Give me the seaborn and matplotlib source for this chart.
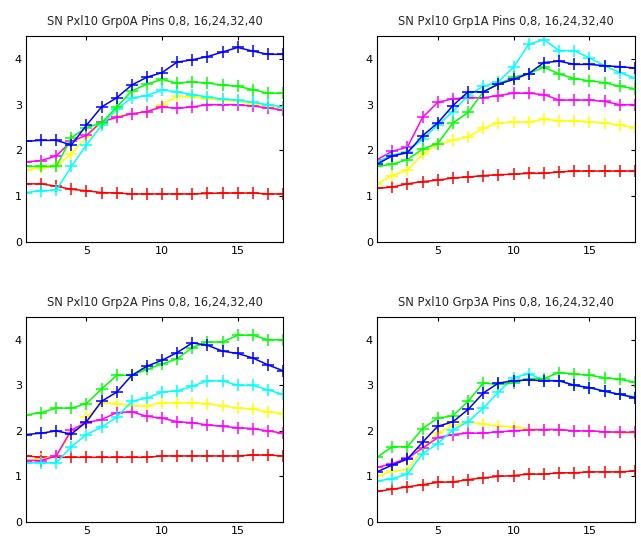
import numpy as np
import pandas as pd
import matplotlib
matplotlib.use("Agg")
import matplotlib.pyplot as plt
import seaborn as sns

# Frame index (x axis)
frames = list(range(1, 19))

groups = ["Grp0A", "Grp1A", "Grp2A", "Grp3A"]
pins = [0, 8, 16, 24, 32, 40]
pin_colors = ["red", "yellow", "magenta", "cyan", "lime", "blue"]

# Grp0A series, one per pin
g0_red = [1.27, 1.27, 1.22, 1.15, 1.12, 1.08, 1.07, 1.05, 1.05, 1.05, 1.05, 1.05, 1.06, 1.07, 1.07, 1.07, 1.05, 1.05]
g0_yellow = [1.58, 1.62, 1.65, 1.93, 2.30, 2.60, 2.75, 2.80, 2.85, 3.00, 3.18, 3.17, 3.13, 3.10, 3.07, 3.02, 2.97, 2.90]
g0_magenta = [1.75, 1.78, 1.88, 2.20, 2.33, 2.63, 2.72, 2.80, 2.85, 2.95, 2.92, 2.95, 3.00, 3.00, 3.00, 2.97, 2.93, 2.88]
g0_cyan = [1.08, 1.12, 1.13, 1.65, 2.12, 2.55, 2.90, 3.15, 3.20, 3.32, 3.28, 3.22, 3.17, 3.12, 3.10, 3.05, 3.00, 2.95]
g0_green = [1.65, 1.65, 1.65, 2.28, 2.50, 2.60, 2.95, 3.30, 3.45, 3.55, 3.47, 3.50, 3.47, 3.43, 3.40, 3.33, 3.25, 3.25]
g0_blue = [2.20, 2.22, 2.22, 2.12, 2.55, 2.95, 3.15, 3.43, 3.60, 3.70, 3.93, 3.98, 4.05, 4.15, 4.25, 4.17, 4.10, 4.10]

# Grp1A
g1_red = [1.17, 1.20, 1.27, 1.32, 1.35, 1.40, 1.42, 1.45, 1.47, 1.48, 1.50, 1.50, 1.53, 1.55, 1.55, 1.55, 1.55, 1.55]
g1_yellow = [1.27, 1.45, 1.57, 1.92, 2.13, 2.22, 2.30, 2.48, 2.60, 2.62, 2.62, 2.68, 2.65, 2.65, 2.63, 2.60, 2.55, 2.50]
g1_magenta = [1.80, 1.98, 2.07, 2.72, 3.05, 3.13, 3.15, 3.15, 3.20, 3.25, 3.25, 3.22, 3.10, 3.10, 3.10, 3.07, 3.00, 3.00]
g1_cyan = [1.75, 1.90, 1.97, 2.25, 2.55, 2.85, 3.20, 3.40, 3.50, 3.82, 4.32, 4.42, 4.18, 4.18, 4.02, 3.85, 3.70, 3.58]
g1_green = [1.65, 1.70, 1.80, 2.03, 2.15, 2.60, 2.83, 3.28, 3.45, 3.60, 3.68, 3.82, 3.67, 3.57, 3.52, 3.48, 3.40, 3.35]
g1_blue = [1.70, 1.88, 1.95, 2.32, 2.60, 2.98, 3.28, 3.28, 3.45, 3.55, 3.68, 3.92, 3.95, 3.88, 3.88, 3.85, 3.83, 3.80]

# Grp2A
g2_red = [1.45, 1.42, 1.42, 1.42, 1.42, 1.42, 1.42, 1.42, 1.42, 1.45, 1.45, 1.45, 1.45, 1.45, 1.45, 1.47, 1.47, 1.45]
g2_yellow = [1.35, 1.38, 1.45, 1.95, 2.30, 2.62, 2.60, 2.55, 2.55, 2.62, 2.62, 2.62, 2.60, 2.55, 2.50, 2.48, 2.42, 2.38]
g2_magenta = [1.35, 1.35, 1.45, 2.02, 2.18, 2.25, 2.40, 2.42, 2.32, 2.28, 2.20, 2.18, 2.13, 2.10, 2.07, 2.05, 2.00, 1.95]
g2_cyan = [1.30, 1.30, 1.30, 1.65, 1.92, 2.08, 2.30, 2.65, 2.72, 2.85, 2.88, 2.98, 3.10, 3.10, 3.00, 3.00, 2.90, 2.80]
g2_green = [2.35, 2.40, 2.50, 2.50, 2.60, 2.92, 3.22, 3.22, 3.35, 3.47, 3.58, 3.83, 3.95, 3.95, 4.10, 4.10, 4.00, 4.00]
g2_blue = [1.92, 1.95, 2.00, 1.93, 2.20, 2.65, 2.85, 3.22, 3.42, 3.55, 3.72, 3.93, 3.88, 3.75, 3.70, 3.60, 3.45, 3.32]

# Grp3A
g3_red = [0.67, 0.72, 0.77, 0.82, 0.87, 0.88, 0.93, 0.97, 1.00, 1.02, 1.05, 1.05, 1.08, 1.08, 1.10, 1.10, 1.10, 1.12]
g3_yellow = [1.00, 1.12, 1.15, 1.60, 1.95, 2.12, 2.20, 2.15, 2.10, 2.08, 2.05, 2.03, 2.03, 2.00, 2.00, 1.98, 1.95, 1.95]
g3_magenta = [1.20, 1.28, 1.40, 1.62, 1.85, 1.92, 1.95, 1.95, 1.98, 2.00, 2.02, 2.03, 2.03, 2.00, 2.00, 1.98, 1.97, 1.97]
g3_cyan = [0.90, 0.95, 1.05, 1.50, 1.72, 2.02, 2.20, 2.50, 2.85, 3.17, 3.25, 3.12, 3.10, 3.00, 2.95, 2.87, 2.80, 2.75]
g3_green = [1.42, 1.65, 1.65, 2.05, 2.28, 2.33, 2.65, 3.05, 3.02, 3.05, 3.15, 3.15, 3.28, 3.25, 3.22, 3.17, 3.13, 3.07]
g3_blue = [1.10, 1.25, 1.38, 1.75, 2.10, 2.20, 2.47, 2.83, 3.05, 3.10, 3.12, 3.10, 3.10, 3.00, 2.95, 2.87, 2.80, 2.73]

series = {
    "Grp0A": [g0_red, g0_yellow, g0_magenta, g0_cyan, g0_green, g0_blue],
    "Grp1A": [g1_red, g1_yellow, g1_magenta, g1_cyan, g1_green, g1_blue],
    "Grp2A": [g2_red, g2_yellow, g2_magenta, g2_cyan, g2_green, g2_blue],
    "Grp3A": [g3_red, g3_yellow, g3_magenta, g3_cyan, g3_green, g3_blue],
}

rows = []
for grp in groups:
    for pin, vals in zip(pins, series[grp]):
        for f, v in zip(frames, vals):
            rows.append({"group": grp, "pin": pin, "frame": f, "value": v})
df = pd.DataFrame(rows)

sns.set_style("white")
plt.rcParams["font.family"] = ["DejaVu Sans"]

fig = plt.figure(figsize=(6.41, 5.38), dpi=100)
W, H = 641, 538
boxes = [(26, 36, 283, 242), (377, 36, 635, 242),
         (26, 317, 283, 522), (377, 317, 635, 522)]

for grp, (x0, y0, x1, y1) in zip(groups, boxes):
    ax = fig.add_axes([x0 / W, 1 - y1 / H, (x1 - x0) / W, (y1 - y0) / H])
    sub = df[df["group"] == grp]
    for pin, col in zip(pins, pin_colors):
        sns.lineplot(data=sub[sub["pin"] == pin], x="frame", y="value",
                     color=col, marker="+", markersize=8.5,
                     markeredgewidth=1.1, markeredgecolor=col,
                     linewidth=1.1, ax=ax, legend=False)
    ax.set_xlim(1, 18)
    ax.set_ylim(0, 4.5)
    ax.set_xticks([5, 10, 15])
    ax.set_yticks([0, 1, 2, 3, 4])
    ax.set_xlabel("")
    ax.set_ylabel("")
    ax.tick_params(direction="in", top=True, right=True, length=3,
                   width=0.8, labelsize=8, colors="black", pad=3)
    for s in ax.spines.values():
        s.set_color("black")
        s.set_linewidth(0.8)
    ax.set_title(f"SN Pxl10 {grp} Pins 0,8, 16,24,32,40", fontsize=8.3, pad=8)

fig.savefig("out.png", dpi=100, facecolor="white")
